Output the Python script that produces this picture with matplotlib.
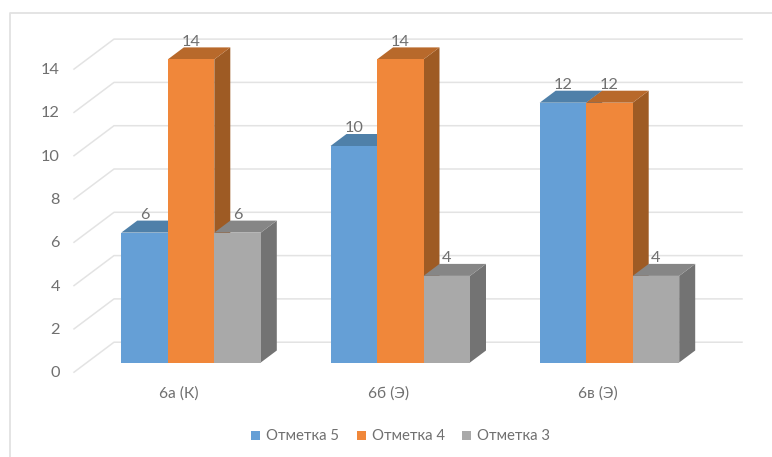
import matplotlib

matplotlib.use("Agg")
import matplotlib.pyplot as plt
from matplotlib.patches import Polygon, Rectangle

plt.rcParams["font.family"] = ["Lato", "Open Sans", "DejaVu Sans"]

categories = ["6а (К)", "6б (Э)", "6в (Э)"]
series_names = ["Отметка 5", "Отметка 4", "Отметка 3"]
otmetka_5 = [6, 10, 12]
otmetka_4 = [14, 14, 12]
otmetka_3 = [6, 4, 4]
y_ticks = [0, 2, 4, 6, 8, 10, 12, 14]

FRONT = ["#659FD6", "#F0873A", "#A9A9A9"]
TOP = ["#4F80A9", "#B8692B", "#868686"]
SIDE = ["#47749C", "#9E5B24", "#737373"]
TEXT = "#707070"
GRID = "#E3E3E3"

# the whole figure is one axes in pixels, the fake 3D is worked out from the values
Y0 = 362.5     # front of the bars at value 0
UNIT = 21.65   # pixels per value
BAR_W = 46.5
GROUP_X0 = 121.3
GROUP_STEP = 209.2
DX, DY = 16, 12  # depth of a bar


def ypos(v):
    return Y0 - v * UNIT


fig = plt.figure(figsize=(7.72, 4.57), dpi=100)
ax = fig.add_axes([0, 0, 1, 1])
ax.set_xlim(0, 772)
ax.set_ylim(457, 0)
ax.axis("off")

# outer frame: only top and left show
ax.plot([10, 10, 772], [457, 13, 13], color="#E2E2E2", lw=1.3)

# back wall and side wall lines
for v in y_ticks:
    y = ypos(v) - 20.3
    ax.plot([74, 114, 742], [y + 30, y, y], color=GRID, lw=1.1, zorder=1)
    ax.text(60, y + 31, str(v), ha="right", va="center", fontsize=11.8,
            color=TEXT)

values = [otmetka_5, otmetka_4, otmetka_3]
for g, cat in enumerate(categories):
    gx = GROUP_X0 + g * GROUP_STEP
    for s in range(3):
        v = values[s][g]
        x = gx + s * BAR_W
        y = ypos(v)
        z = 2 + s
        ax.add_patch(Polygon([(x + BAR_W, Y0), (x + BAR_W + DX, Y0 - DY),
                              (x + BAR_W + DX, y - DY), (x + BAR_W, y)],
                             fc=SIDE[s], ec="none", zorder=z))
        ax.add_patch(Polygon([(x, y), (x + DX, y - DY),
                              (x + BAR_W + DX, y - DY), (x + BAR_W, y)],
                             fc=TOP[s], ec="none", zorder=z))
        ax.add_patch(Rectangle((x, y), BAR_W, Y0 - y, fc=FRONT[s], ec="none",
                               zorder=z))
        ax.text(x + BAR_W / 2, y - 17.5, str(v), ha="center", va="center",
                fontsize=11.8, color=TEXT, zorder=10)
    ax.text(gx + 1.5 * BAR_W - 12, 394, cat, ha="center", va="center",
            fontsize=11.2, color=TEXT)

# legend
for name, color, x in zip(series_names, FRONT, [251, 357, 462]):
    ax.add_patch(Rectangle((x, 431), 9, 9, fc=color, ec="none"))
    ax.text(x + 15, 435.5, name, ha="left", va="center", fontsize=10.7,
            color=TEXT)

fig.savefig("out.png", dpi=100)
